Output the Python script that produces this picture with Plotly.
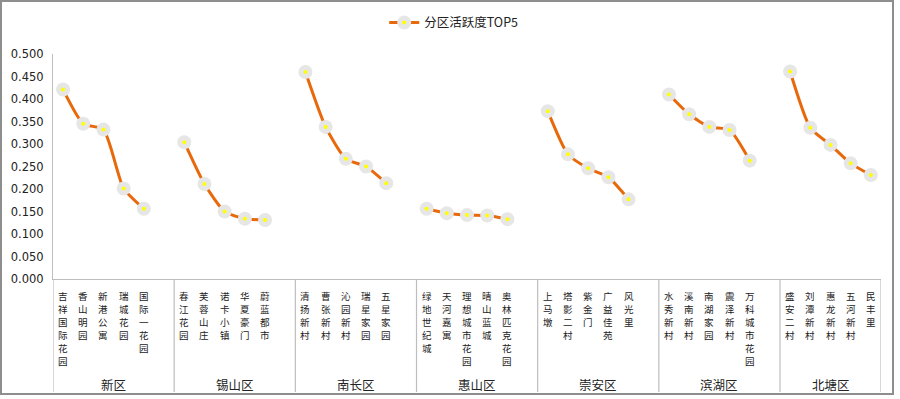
import plotly.graph_objects as go

districts = ["新区", "锡山区", "南长区", "惠山区", "崇安区", "滨湖区", "北塘区"]
communities = [
    ["吉祥国际花园", "香山明园", "新港公寓", "瑞城花园", "国际一花园"],
    ["春江花园", "芙蓉山庄", "诺卡小镇", "华夏豪门", "蔚蓝都市"],
    ["清扬新村", "曹张新村", "沁园新村", "瑞星家园", "五星家园"],
    ["绿地世纪城", "天河嘉寓", "理想城市花园", "晴山蓝城", "奥林匹克花园"],
    ["上马墩", "塔影二村", "紫金门", "广益佳苑", "风光里"],
    ["水秀新村", "溪南新村", "南湖家园", "震泽新村", "万科城市花园"],
    ["盛安二村", "刘潭新村", "惠龙新村", "五河新村", "民丰里"],
]
activity = [
    [0.421, 0.345, 0.332, 0.201, 0.156],
    [0.304, 0.211, 0.150, 0.134, 0.131],
    [0.460, 0.338, 0.267, 0.250, 0.213],
    [0.156, 0.146, 0.142, 0.141, 0.133],
    [0.373, 0.277, 0.246, 0.226, 0.177],
    [0.410, 0.366, 0.338, 0.331, 0.263],
    [0.461, 0.336, 0.298, 0.257, 0.231],
]
y_ticks = [0.0, 0.05, 0.1, 0.15, 0.2, 0.25, 0.3, 0.35, 0.4, 0.45, 0.5]
series_name = "分区活跃度TOP5"

slot = 6  # 5 items + one blank slot per district
xs, ys = [], []
for g, vals in enumerate(activity):
    for i, v in enumerate(vals):
        xs.append(g * slot + i)
        ys.append(v)
    xs.append(None)
    ys.append(None)

n_cat = slot * len(districts) - 1
fig = go.Figure()
fig.add_trace(go.Scatter(
    x=xs, y=ys, name=series_name, mode="lines+markers",
    connectgaps=False,
    line=dict(color="#E8690B", width=3, shape="spline", smoothing=0.6),
    marker=dict(size=9, color="#FFFF00", line=dict(color="#E6E6E6", width=5)),
))

font_cjk = "Noto Sans CJK SC"
char_step = 13
annotations = []
shapes = []
for g, names in enumerate(communities):
    for i, nm in enumerate(names):
        for k, ch in enumerate(nm):
            annotations.append(dict(
                x=g * slot + i, xref="x", y=-0.04, yref="paper",
                text=ch, showarrow=False, xanchor="center", yanchor="top",
                yshift=-k * char_step, borderpad=0,
                font=dict(family=font_cjk, size=9.5, color="#222222"),
            ))
    left = g * slot - 0.5
    right = min(g * slot + slot - 0.5, n_cat - 0.5)
    annotations.append(dict(
        x=(left + right) / 2, xref="x", y=-0.47, yref="paper",
        text=districts[g], showarrow=False, xanchor="center", yanchor="middle",
        font=dict(family=font_cjk, size=12.5, color="#222222"),
    ))
    shapes.append(dict(type="line", xref="x", yref="paper", x0=left, x1=left,
                       y0=0, y1=-0.502, line=dict(color="#BDBDBD", width=1.2)))
shapes.append(dict(type="line", xref="x", yref="paper", x0=n_cat - 0.5, x1=n_cat - 0.5,
                   y0=0, y1=-0.502, line=dict(color="#BDBDBD", width=1.2)))
shapes.append(dict(type="rect", xref="paper", yref="paper",
                   x0=-0.0628, x1=1.0145, y0=-0.511, y1=1.2356,
                   line=dict(color="#8E8E8E", width=2)))

fig.update_layout(
    width=900, height=399,
    margin=dict(l=53, r=19, t=54, b=120, autoexpand=False),
    paper_bgcolor="white", plot_bgcolor="white",
    font=dict(family="DejaVu Sans", size=12, color="#222222"),
    showlegend=True,
    legend=dict(orientation="h", x=0.40, xanchor="left", y=1.138, yanchor="middle",
                font=dict(family=font_cjk, size=12.5, color="#222222"),
                bgcolor="rgba(0,0,0,0)"),
    annotations=annotations,
    shapes=shapes,
)
fig.update_xaxes(range=[-0.5, n_cat - 0.5], showticklabels=False, showgrid=False,
                 zeroline=False, showline=True, linecolor="#BDBDBD", linewidth=1.2,
                 ticks="")
fig.update_yaxes(range=[0, 0.5], tickvals=y_ticks, tickformat=".3f", showgrid=False,
                 zeroline=False, showline=True, linecolor="#BDBDBD", linewidth=1.2,
                 ticks="", ticklabelstandoff=6,
                 tickfont=dict(family="DejaVu Sans", size=11.5, color="#222222"))

fig.write_html("out.html", config={"displayModeBar": False},
               post_script="document.body.style.margin='0';document.body.style.overflow='hidden';")
